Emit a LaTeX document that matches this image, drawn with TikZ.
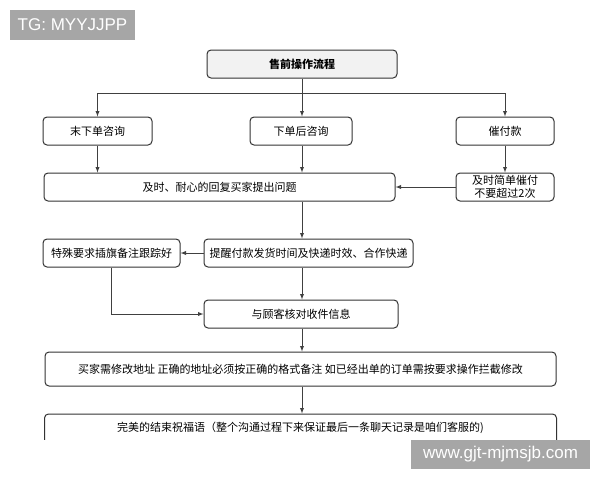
\documentclass[tikz,border=0pt]{standalone}
\usepackage{fontspec}
\setmainfont{Noto Sans CJK SC}
\newfontfamily\markfont{Liberation Sans}
\usepackage{tikz}
\usetikzlibrary{calc}

\begin{document}
\begin{tikzpicture}[x=1pt,y=-1pt,>=latex,
  stepbox/.style={draw=black!80,line width=1pt,rounded corners=4pt,fill=white,
    minimum height=28pt,inner sep=2pt,font=\fontsize{11}{13}\selectfont,align=center},
  link/.style={draw=black!75,line width=0.9pt,->},
  wmark/.style={fill=black!35,text=white,inner sep=0pt,font=\markfont\fontsize{17}{17}\selectfont}]
\useasboundingbox (0,0) rectangle (600,480);

% Title
\node[stepbox,fill=black!5,minimum width=190pt,font=\fontsize{11}{13}\selectfont\bfseries] (title) at (302,64) {售前操作流程};
\coordinate (split) at (302,93);

% Three kinds of enquiry
\node[stepbox,minimum width=109pt] (before) at (97.5,131) {末下单咨询};
\node[stepbox,minimum width=102pt] (after) at (301,131) {下单后咨询};
\node[stepbox,minimum width=98pt] (urge) at (505,131) {催付款};
\draw[draw=black!75,line width=0.9pt] (title) -- (split);
\draw[link] (split) -| (before);
\draw[link] (split) -- (split |- after.north);
\draw[link] (split) -| (urge);

% Reply
\node[stepbox,minimum width=351pt] (reply) at (219.5,187) {及时、耐心的回复买家提出问题};
\node[stepbox,minimum width=98pt,font=\fontsize{11}{12.5}\selectfont] (urgetwice) at (505,187) {及时简单催付\\不要超过2次};
\draw[link] (before) -- (before |- reply.north);
\draw[link] (split |- after.south) -- (split |- reply.north);
\draw[link] (urge) -- (urgetwice);
\draw[link] (urgetwice) -- (reply.east |- urgetwice);

% Reminder and flags
\node[stepbox,minimum width=209pt] (remind) at (308.5,253) {提醒付款发货时间及快递时效、合作快递};
\node[stepbox,minimum width=137pt] (flag) at (111.5,253) {特殊要求插旗备注跟踪好};
\draw[link] (split |- reply.south) -- (split |- remind.north);
\draw[link] (remind) -- (flag);

% Check address
\node[stepbox,minimum width=194pt] (check) at (301,314) {与顾客核对收件信息};
\draw[link] (split |- remind.south) -- (split |- check.north);
\draw[link] (flag) |- (check);

% Change address
\node[stepbox,minimum width=511pt,minimum height=34pt] (change) at (300.5,369) {买家需修改地址 正确的地址必须按正确的格式备注 如已经出单的订单需按要求操作拦截修改};
\draw[link] (split |- check.south) -- (split |- change.north);

% Closing words (cut off at the bottom)
\begin{scope}
\clip (0,0) rectangle (600,439);
\node[stepbox,minimum width=512pt,minimum height=34pt,text depth=8pt] (closing) at (300.5,431) {完美的结束祝福语（整个沟通过程下来保证最后一条聊天记录是咱们客服的)};
\end{scope}
\draw[link] (split |- change.south) -- (split |- closing.north);

% Watermarks
\node[wmark,minimum width=125pt,minimum height=30pt] (tg) at (72.5,25) {TG: MYYJJPP};
\node[wmark,minimum width=179pt,minimum height=29pt] (site) at (500.5,454.5) {www.gjt-mjmsjb.com};
\end{tikzpicture}
\end{document}
